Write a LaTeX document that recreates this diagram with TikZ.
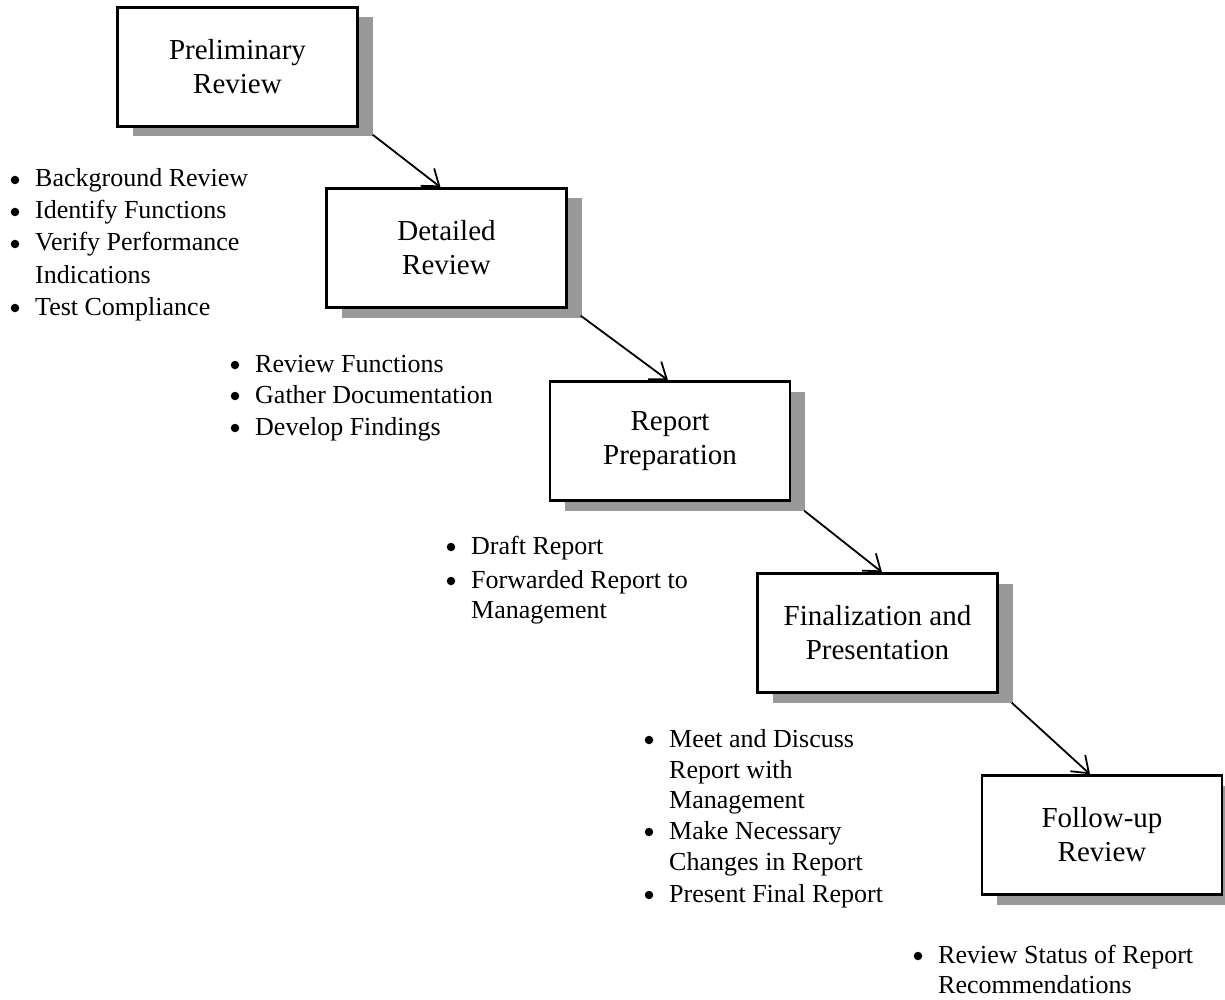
\documentclass[tikz,border=0pt]{standalone}
\usepackage{fontspec}
\setmainfont{Liberation Serif}
\usetikzlibrary{arrows.meta,shadows}
\definecolor{shadowgray}{HTML}{999999}
\tikzset{
  stagebox/.style={draw=black, line width=2.5pt, fill=white, minimum width=240pt, minimum height=119pt,
    inner sep=0pt, align=center, font=\fontsize{29}{34}\selectfont,
    general shadow={fill=shadowgray, shadow xshift=15pt, shadow yshift=-10pt}},
  flowarrow/.style={line width=1.8pt, -{Straight Barb[length=15pt,width=22pt,line width=1.8pt]}},
  itemline/.style={anchor=base west, inner sep=0pt, font=\fontsize{26}{32}\selectfont},
  bulletdot/.style={circle, fill=black, inner sep=0pt, minimum size=8.5pt}
}
% item: name, text x, baseline y, text
\newcommand\bitem[4]{%
  \node[itemline] (#1) at (#2,#3) {#4};
  \node[bulletdot] (#1dot) at ([shift={(-20pt,7pt)}]#1.base west) {};}
\begin{document}
\begin{tikzpicture}[x=1pt,y=-1pt]
\useasboundingbox (0,0) rectangle (1225,1000);
% boxes
\node[stagebox] (b1) at (237.5,67) {Preliminary\\Review};
\node[stagebox] (b2) at (446.5,248) {Detailed\\Review};
\node[stagebox] (b3) at (670,441) {Report\\Preparation};
\node[stagebox] (b4) at (877.5,633) {Finalization and\\Presentation};
\node[stagebox] (b5) at (1102,835) {Follow-up\\Review};
% arrows
\draw[flowarrow] ([shift={(14pt,-7pt)}]b1.south east) -- ([xshift=-6pt]b2.north);
\draw[flowarrow] ([shift={(13pt,-7pt)}]b2.south east) -- ([xshift=-2pt]b3.north);
\draw[flowarrow] ([shift={(13pt,-9pt)}]b3.south east) -- ([xshift=4.5pt]b4.north);
\draw[flowarrow] ([shift={(13pt,-9pt)}]b4.south east) -- ([xshift=-12pt]b5.north);
% list 1
\bitem{l1a}{35}{187}{Background Review}
\bitem{l1b}{35}{219}{Identify Functions}
\bitem{l1c}{35}{251}{Verify Performance}
\node[itemline] (l1d) at (35,283) {Indications};
\bitem{l1e}{35}{315}{Test Compliance}
% list 2
\bitem{l2a}{255}{372}{Review Functions}
\bitem{l2b}{255}{403}{Gather Documentation}
\bitem{l2c}{255}{435}{Develop Findings}
% list 3
\bitem{l3a}{471}{554}{Draft Report}
\bitem{l3b}{471}{588}{Forwarded Report to}
\node[itemline] (l3c) at (471,618) {Management};
% list 4
\bitem{l4a}{669}{747}{Meet and Discuss}
\node[itemline] (l4b) at (669,778) {Report with};
\node[itemline] (l4c) at (669,808) {Management};
\bitem{l4d}{669}{839}{Make Necessary}
\node[itemline] (l4e) at (669,870) {Changes in Report};
\bitem{l4f}{669}{902}{Present Final Report}
% list 5
\bitem{l5a}{938}{963}{Review Status of Report}
\node[itemline] (l5b) at (938,993) {Recommendations};
\end{tikzpicture}
\end{document}
